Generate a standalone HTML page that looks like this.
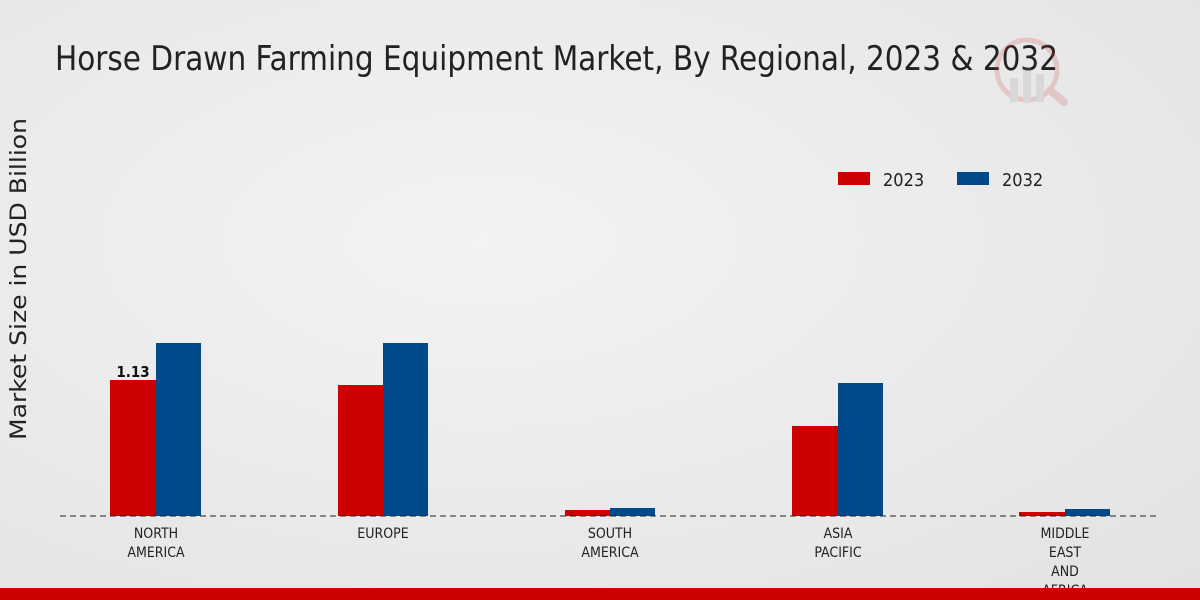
<!DOCTYPE html>
<html><head><meta charset="utf-8"><style>
html,body{margin:0;padding:0;width:1200px;height:600px;overflow:hidden}
body{background:radial-gradient(ellipse at 40% 40%,#f3f3f3 0%,#e9e9e9 60%,#e2e2e2 100%)}
text{font-family:"DejaVu Sans Condensed","DejaVu Sans","Liberation Sans",sans-serif}
</style></head><body>
<svg width="1200" height="600" xmlns="http://www.w3.org/2000/svg">
<text x="55" y="70" font-size="34" fill="#222" textLength="1003" lengthAdjust="spacingAndGlyphs">Horse Drawn Farming Equipment Market, By Regional, 2023 &amp; 2032</text>
<g opacity="0.2">
<circle cx="1027" cy="70" r="30" fill="none" stroke="#c44" stroke-width="5"/>
<rect x="1010" y="78" width="8" height="24" fill="#999"/>
<rect x="1023" y="68" width="8" height="34" fill="#999"/>
<rect x="1036" y="74" width="8" height="28" fill="#999"/>
<line x1="1050" y1="90" x2="1064" y2="102" stroke="#c44" stroke-width="8" stroke-linecap="round"/>
</g>
<text transform="translate(26,279) rotate(-90)" font-size="22" fill="#222" text-anchor="middle" style="font-family:'DejaVu Sans',sans-serif" textLength="322" lengthAdjust="spacingAndGlyphs">Market Size in USD Billion</text>
<rect x="838" y="172" width="32" height="13" fill="#cc0000"/>
<text x="883" y="186" font-size="18" fill="#222">2023</text>
<rect x="957" y="172" width="32" height="13" fill="#004a8c"/>
<text x="1002" y="186" font-size="18" fill="#222">2032</text>
<g fill="#cc0000">
<rect x="110" y="380" width="46" height="136"/>
<rect x="338" y="385" width="45" height="131"/>
<rect x="565" y="510" width="45" height="6"/>
<rect x="792" y="426" width="46" height="90"/>
<rect x="1019" y="512" width="46" height="4"/>
</g>
<g fill="#004a8c">
<rect x="156" y="343" width="45" height="173"/>
<rect x="383" y="343" width="45" height="173"/>
<rect x="610" y="508" width="45" height="8"/>
<rect x="838" y="383" width="45" height="133"/>
<rect x="1065" y="509" width="45" height="7"/>
</g>
<line x1="60" y1="516" x2="1160" y2="516" stroke="#222" stroke-width="1" stroke-dasharray="6,4"/>
<text x="133" y="377" font-size="15" font-weight="bold" fill="#111" text-anchor="middle">1.13</text>
<g font-size="14" fill="#222" text-anchor="middle">
<text x="156" y="538">NORTH</text><text x="156" y="557">AMERICA</text>
<text x="383" y="538">EUROPE</text>
<text x="610" y="538">SOUTH</text><text x="610" y="557">AMERICA</text>
<text x="838" y="538">ASIA</text><text x="838" y="557">PACIFIC</text>
<text x="1065" y="538">MIDDLE</text><text x="1065" y="557">EAST</text><text x="1065" y="576">AND</text><text x="1065" y="595">AFRICA</text>
</g>
<rect x="0" y="588" width="1200" height="12" fill="#cc0000"/>
</svg>
</body></html>
